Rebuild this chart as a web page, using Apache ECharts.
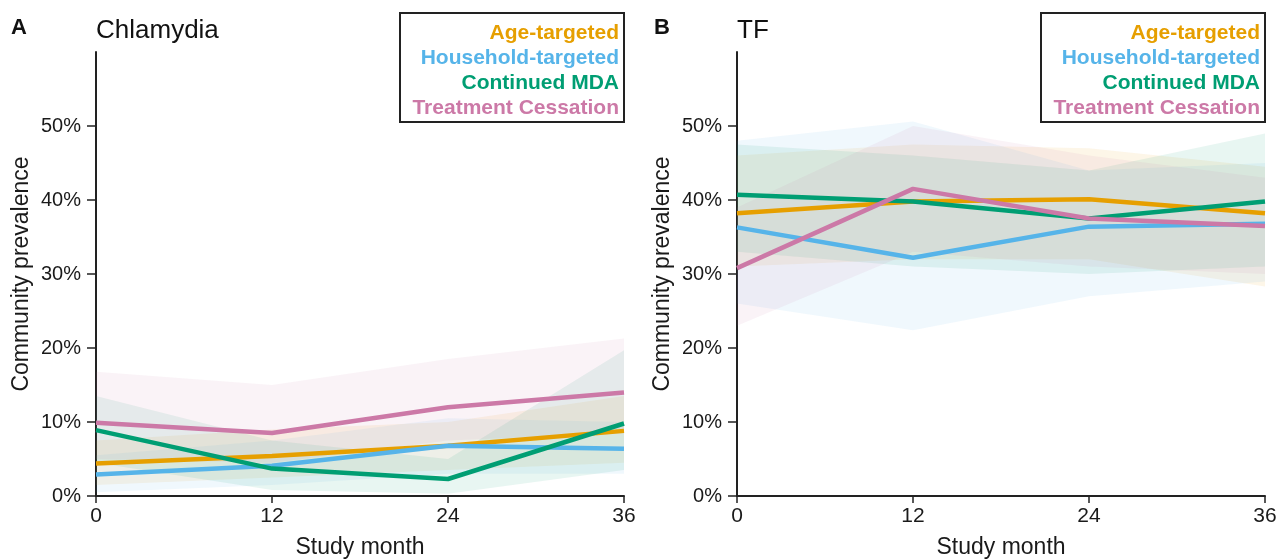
<!DOCTYPE html>
<html>
<head>
<meta charset="utf-8">
<script src="https://cdn.jsdelivr.net/npm/echarts@6/dist/echarts.min.js"></script>
<style>
html,body{margin:0;padding:0;background:#fff;}
#chart{width:1277px;height:559px;}
</style>
</head>
<body>
<div id="chart"></div>
<script>
// ---- data ----
const months = ['0', '12', '24', '36'];
const seriesNames = ['Age-targeted', 'Household-targeted', 'Continued MDA', 'Treatment Cessation'];
const seriesColors = ['#E69F00', '#56B4E9', '#009E73', '#CC79A7'];
const yTickValues = [0, 10, 20, 30, 40, 50];

// Panel A: Chlamydia (community prevalence, %)
const chlAge = [4.4, 5.4, 6.8, 8.8];
const chlHousehold = [2.9, 4.1, 6.8, 6.4];
const chlContinued = [8.9, 3.7, 2.3, 9.8];
const chlCessation = [9.9, 8.5, 12.0, 14.0];
const chlAgeLow = [1.5, 2.5, 3.5, 4.5];
const chlAgeHigh = [7.5, 9.0, 10.0, 13.5];
const chlHouseholdLow = [0.5, 1.5, 3.0, 3.0];
const chlHouseholdHigh = [5.5, 7.5, 10.5, 10.0];
const chlContinuedLow = [4.5, 0.8, 0.3, 3.5];
const chlContinuedHigh = [13.5, 7.5, 5.0, 19.7];
const chlCessationLow = [5.0, 4.5, 7.5, 8.5];
const chlCessationHigh = [16.8, 15.0, 18.5, 21.3];

// Panel B: TF (community prevalence, %)
const tfAge = [38.2, 39.8, 40.1, 38.2];
const tfHousehold = [36.3, 32.2, 36.4, 36.8];
const tfContinued = [40.7, 39.8, 37.5, 39.8];
const tfCessation = [30.8, 41.5, 37.5, 36.5];
const tfAgeLow = [31.0, 32.0, 32.0, 28.3];
const tfAgeHigh = [46.0, 47.5, 47.0, 44.5];
const tfHouseholdLow = [26.0, 22.4, 27.0, 29.0];
const tfHouseholdHigh = [48.0, 50.6, 44.0, 45.0];
const tfContinuedLow = [33.0, 31.0, 30.0, 31.0];
const tfContinuedHigh = [47.5, 46.0, 44.0, 49.0];
const tfCessationLow = [23.0, 33.0, 31.0, 30.0];
const tfCessationHigh = [39.0, 50.0, 46.0, 43.0];

const panels = [
  {letter: 'A', title: 'Chlamydia',
   lines: [chlAge, chlHousehold, chlContinued, chlCessation],
   lows: [chlAgeLow, chlHouseholdLow, chlContinuedLow, chlCessationLow],
   highs: [chlAgeHigh, chlHouseholdHigh, chlContinuedHigh, chlCessationHigh]},
  {letter: 'B', title: 'TF',
   lines: [tfAge, tfHousehold, tfContinued, tfCessation],
   lows: [tfAgeLow, tfHouseholdLow, tfContinuedLow, tfCessationLow],
   highs: [tfAgeHigh, tfHouseholdHigh, tfContinuedHigh, tfCessationHigh]}
];

// ---- layout ----
const FONT = 'Liberation Sans, Arial, sans-serif';
const grids = [
  {left: 96, top: 52, width: 528, height: 444, outerBoundsMode: 'none', containLabel: false},
  {left: 737, top: 52, width: 528, height: 444, outerBoundsMode: 'none', containLabel: false}
];

const xAxes = [], yAxes = [], series = [], graphics = [];
panels.forEach((p, gi) => {
  xAxes.push({
    type: 'category', gridIndex: gi, data: months, boundaryGap: false,
    axisLine: {lineStyle: {color: '#222', width: 2}},
    axisTick: {length: 7, lineStyle: {color: '#222', width: 1.5}},
    axisLabel: {color: '#1a1a1a', fontSize: 21, fontFamily: FONT, margin: 10},
    name: 'Study month', nameLocation: 'middle', nameGap: 40,
    nameTextStyle: {color: '#1a1a1a', fontSize: 23, fontFamily: FONT},
    splitLine: {show: false}
  });
  yAxes.push({
    type: 'value', gridIndex: gi, min: 0, max: 60, interval: 10,
    axisLine: {show: true, lineStyle: {color: '#222', width: 2}},
    axisTick: {show: true, length: 9, customValues: yTickValues, lineStyle: {color: '#222', width: 1.5}},
    axisLabel: {color: '#1a1a1a', fontSize: 20, fontFamily: FONT, margin: 15,
      customValues: yTickValues, formatter: v => v + '%'},
    splitLine: {show: false},
    name: 'Community prevalence', nameLocation: 'middle', nameGap: 63,
    nameTextStyle: {color: '#1a1a1a', fontSize: 23, fontFamily: FONT}
  });
  // confidence bands
  p.lines.forEach((line, si) => {
    const stackId = 'band' + gi + '_' + si;
    series.push({
      type: 'line', xAxisIndex: gi, yAxisIndex: gi, stack: stackId,
      data: p.lows[si], symbol: 'none', silent: true,
      lineStyle: {opacity: 0}, z: 1
    });
    series.push({
      type: 'line', xAxisIndex: gi, yAxisIndex: gi, stack: stackId,
      data: p.highs[si].map((h, i) => +(h - p.lows[si][i]).toFixed(2)),
      symbol: 'none', silent: true,
      lineStyle: {opacity: 0},
      areaStyle: {color: seriesColors[si], opacity: 0.09}, z: 1
    });
  });
  // lines
  p.lines.forEach((line, si) => {
    series.push({
      name: seriesNames[si], type: 'line', xAxisIndex: gi, yAxisIndex: gi,
      data: line, symbol: 'none', z: 5,
      lineStyle: {color: seriesColors[si], width: 4.5}
    });
  });
  // panel letter and title
  const g = grids[gi];
  graphics.push({type: 'text', left: g.left - (gi === 0 ? 85 : 83), top: 17,
    style: {text: p.letter, font: 'bold 22px ' + FONT, fill: '#111'}});
  graphics.push({type: 'text', left: g.left, top: 18,
    style: {text: p.title, font: '26px ' + FONT, fill: '#111'}});
  // legend box
  const boxRight = g.left + g.width;
  const boxW = 224, boxH = 109, boxTop = 13;
  graphics.push({type: 'rect', shape: {x: boxRight - boxW, y: boxTop, width: boxW, height: boxH},
    style: {fill: '#fff', stroke: '#222', lineWidth: 2}, z: 10});
  seriesNames.forEach((nm, si) => {
    graphics.push({type: 'text', z: 11,
      x: boxRight - 5, y: boxTop + 20 + si * 25,
      style: {text: nm, font: 'bold 21px ' + FONT, fill: seriesColors[si],
        align: 'right', verticalAlign: 'middle'}});
  });
});

const chart = echarts.init(document.getElementById('chart'));
chart.setOption({
  animation: false,
  backgroundColor: '#fff',
  grid: grids,
  xAxis: xAxes,
  yAxis: yAxes,
  series: series,
  graphic: graphics
});
</script>
</body>
</html>
